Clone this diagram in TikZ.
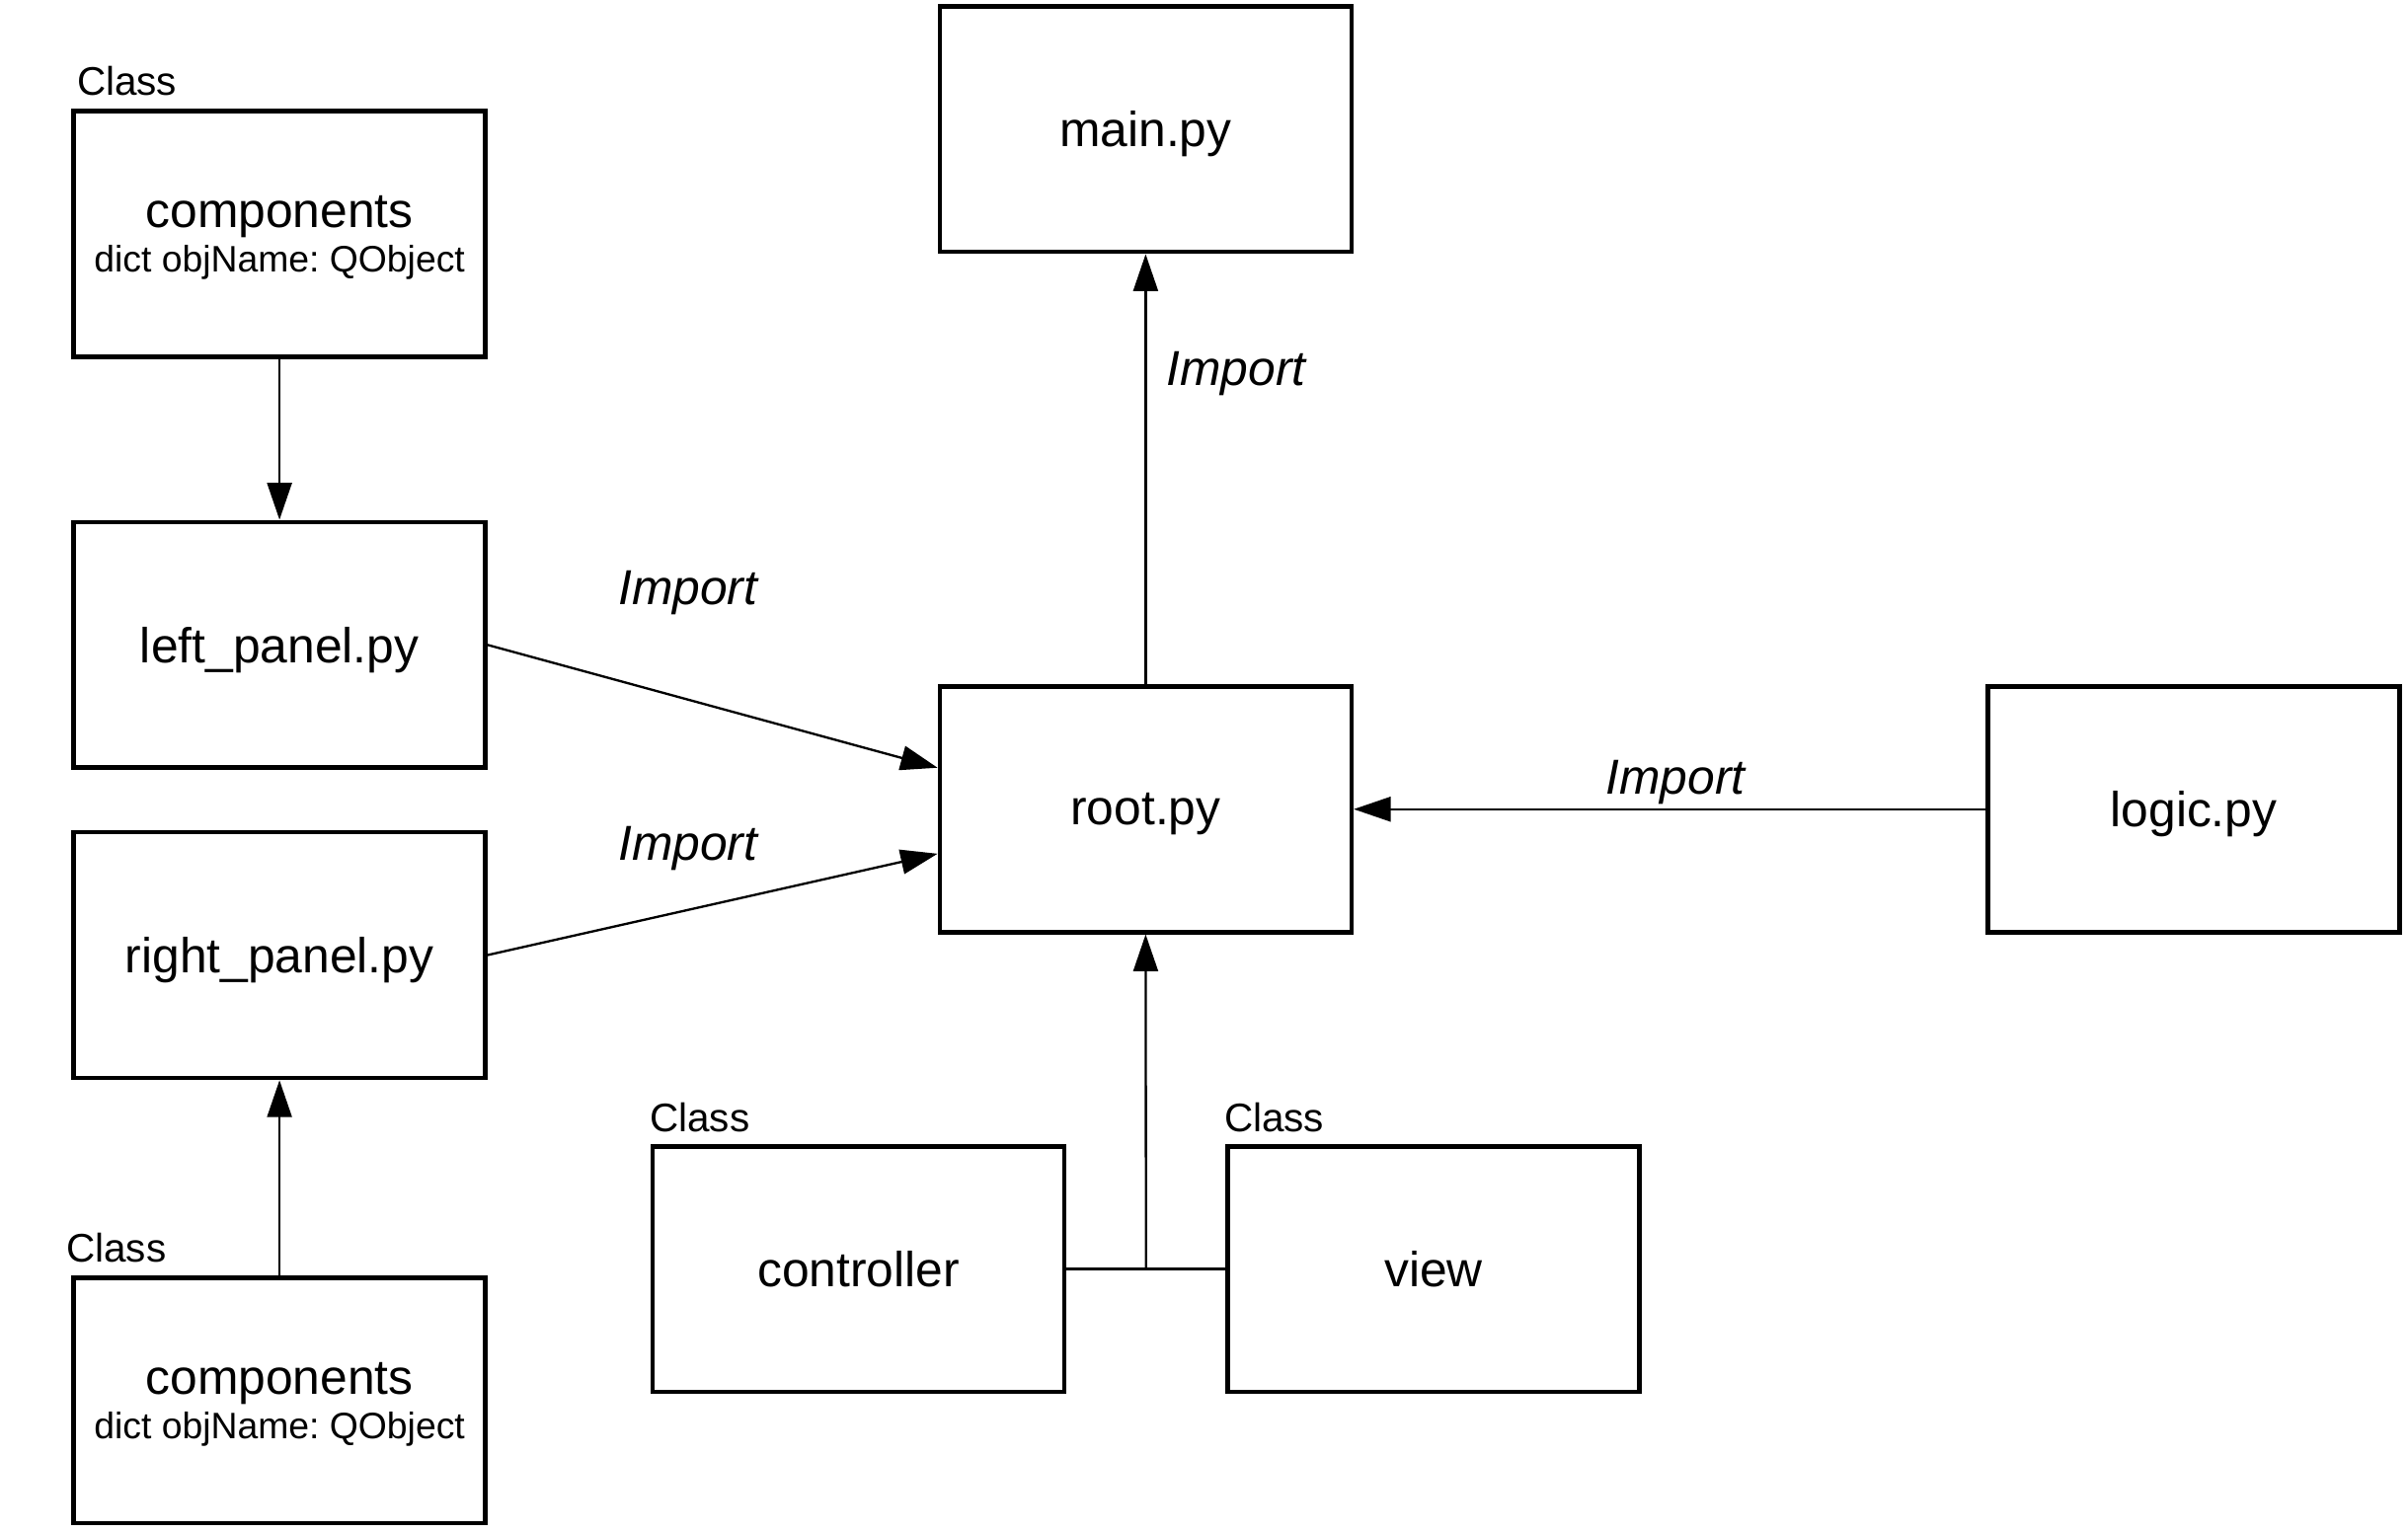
\documentclass[tikz,border=0pt]{standalone}
\usepackage{fontspec}
\setmainfont{Liberation Sans}
\usetikzlibrary{arrows.meta,calc}
\frenchspacing
\tikzset{
  box/.style={draw, line width=3pt, minimum width=268pt, minimum height=160pt, inner sep=0pt, align=center, text depth=0pt, font=\fontsize{32}{38}\selectfont},
  compbox/.style={box, font=\fontsize{32}{29}\selectfont},
  conn/.style={line width=1.5pt},
  arr/.style={conn, -{Triangle[length=24pt,width=16pt]}},
  lbl/.style={font=\fontsize{32}{38}\selectfont\itshape, inner sep=0pt, text depth=0pt},
  cls/.style={font=\fontsize{26}{30}\selectfont, inner sep=0pt, anchor=base west},
}
\begin{document}
\begin{tikzpicture}[x=1pt,y=-1pt]
\useasboundingbox (0,0) rectangle (1568,998);
% boxes
\node[compbox] (comp1) at (182,152.5) {components\\\fontsize{24}{29}\selectfont dict objName: QObject};
\node[box] (lp) at (182,420) {left\_panel.py};
\node[box] (rp) at (182,622) {right\_panel.py};
\node[compbox] (comp2) at (182,912) {components\\\fontsize{24}{29}\selectfont dict objName: QObject};
\node[box] (main) at (746,84) {main.py};
\node[box] (root) at (746,527) {root.py};
\node[box] (logic) at (1428.5,527) {logic.py};
\node[box] (ctrl) at (559,826.5) {controller};
\node[box] (view) at (933.5,826.5) {view};
% class labels
\node[cls] (c1) at (50,62) {Class};
\node[cls] (c2) at (43,822) {Class};
\node[cls] (c3) at (423,737) {Class};
\node[cls] (c4) at (797,737) {Class};
% connectors
\draw[arr] (comp1.south) -- (lp.north);
\draw[arr] (comp2.north) -- (rp.south);
\coordinate (rootA) at ($(root.west)+(0,-27)$);
\coordinate (rootB) at ($(root.west)+(0,29)$);
\draw[arr] (lp.east) -- (rootA);
\draw[arr] (rp.east) -- (rootB);
\draw[arr] (root.north) -- (main.south);
\draw[arr] (logic.west) -- (root.east);
\draw[conn] (ctrl.east) -- (view.west);
\coordinate (j) at ($(ctrl.east)!0.5!(view.west)$);
\draw[arr] (j) -- (root.south);
% import labels
\node[lbl] (i1) at (448,383) {Import};
\node[lbl] (i2) at (448,549) {Import};
\node[lbl] (i3) at (805,240) {Import};
\node[lbl] (i4) at (1091,506) {Import};
\end{tikzpicture}
\end{document}
